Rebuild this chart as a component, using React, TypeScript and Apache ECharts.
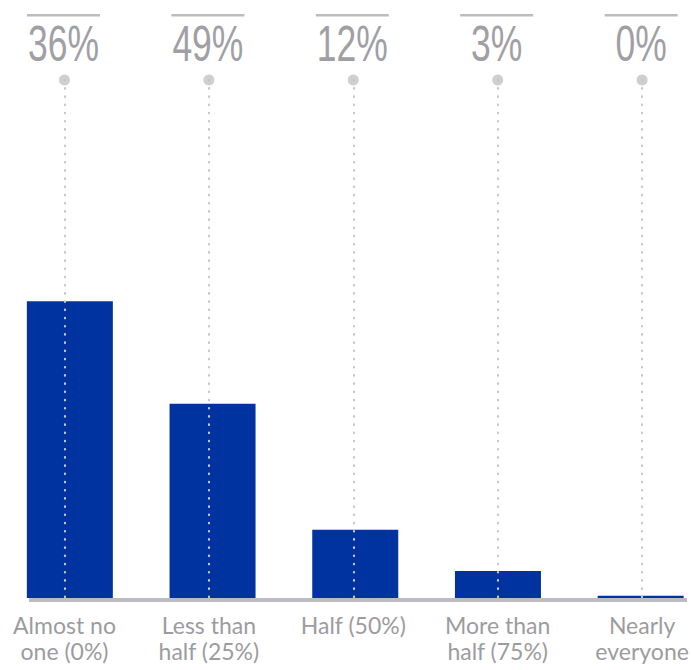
import React, { useEffect, useRef } from "react";
import * as echarts from "echarts";

const categories = [
  "Almost no\none (0%)",
  "Less than\nhalf (25%)",
  "Half (50%)",
  "More than\nhalf (75%)",
  "Nearly\neveryone",
];
// Percent labels shown at the top of each column
const topPercents = [36, 49, 12, 3, 0];
// Bar heights (share in %)
const barValues = [50.4, 33.0, 11.6, 4.6, 0.4];
const Y_MAX = 88;

export default function App() {
  const ref = useRef<HTMLDivElement>(null);
  useEffect(() => {
    if (!ref.current) return;
    const chart = echarts.init(ref.current, null, { renderer: "svg" });
    chart.setOption({
      animation: false,
      backgroundColor: "#ffffff",
      grid: [
        { left: -1.5, width: 713.5, top: 80, bottom: 72, outerBoundsMode: "none", containLabel: false },
        { left: -7.7, width: 722, top: 80, bottom: 72, outerBoundsMode: "none", containLabel: false },
      ],
      xAxis: [
        { type: "category", gridIndex: 0, data: categories, show: false },
        {
          type: "category",
          gridIndex: 1,
          data: categories,
          axisLine: { show: false },
          axisTick: { show: false },
          axisLabel: {
            show: true,
            interval: 0,
            margin: 14,
            fontSize: 23,
            lineHeight: 26,
            fontFamily: "Lato",
            color: "#9c9ca0",
          },
        },
      ],
      yAxis: [
        { type: "value", gridIndex: 0, min: 0, max: Y_MAX, show: false },
        { type: "value", gridIndex: 1, min: 0, max: Y_MAX, show: false },
      ],
      graphic: [
        {
          type: "rect",
          left: 29,
          top: 598,
          shape: { width: 658, height: 4 },
          style: { fill: "#bdbdc1" },
          z: 1,
        },
      ],
      series: [
        {
          type: "bar",
          xAxisIndex: 0,
          yAxisIndex: 0,
          data: barValues,
          barWidth: 86,
          itemStyle: { color: "#0033a0" },
          z: 2,
        },
        {
          type: "scatter",
          xAxisIndex: 1,
          yAxisIndex: 1,
          data: topPercents.map(() => Y_MAX),
          symbol: "circle",
          symbolSize: 11,
          clip: false,
          itemStyle: { color: "#c3c3c7" },
          z: 5,
          markLine: {
            silent: true,
            symbol: ["none", "none"],
            label: { show: false },
            lineStyle: {
              color: "#c8c8cc",
              width: 2.2,
              type: [0.5, 7.7],
              cap: "round",
            },
            data: topPercents.map((_, i) => [
              { coord: [i, Y_MAX] },
              { coord: [i, 0] },
            ]),
          },
        },
        {
          type: "custom",
          xAxisIndex: 1,
          yAxisIndex: 1,
          clip: false,
          z: 6,
          data: topPercents.map((v, i) => [i, Y_MAX, v]),
          renderItem: (params: any, api: any) => {
            const pt = api.coord([api.value(0), api.value(1)]);
            const v = api.value(2);
            return {
              type: "group",
              children: [
                {
                  type: "rect",
                  shape: { x: pt[0] - 37.5, y: pt[1] - 66, width: 73, height: 2.5 },
                  style: { fill: "#bdbdc1" },
                },
                {
                  type: "text",
                  x: pt[0] - 1,
                  y: pt[1] - 36,
                  scaleX: 0.71,
                  style: {
                    text: `${v}%`,
                    x: 0,
                    y: 0,
                    align: "center",
                    verticalAlign: "middle",
                    fontSize: 50,
                    fontFamily: "'Liberation Sans', Arial, sans-serif",
                    fill: "#a0a0a4",
                  },
                },
              ],
            };
          },
        },
      ],
    });
    return () => chart.dispose();
  }, []);
  return (
    <div
      ref={ref}
      style={{ position: "fixed", left: 0, top: 0, width: 691, height: 670 }}
    />
  );
}
